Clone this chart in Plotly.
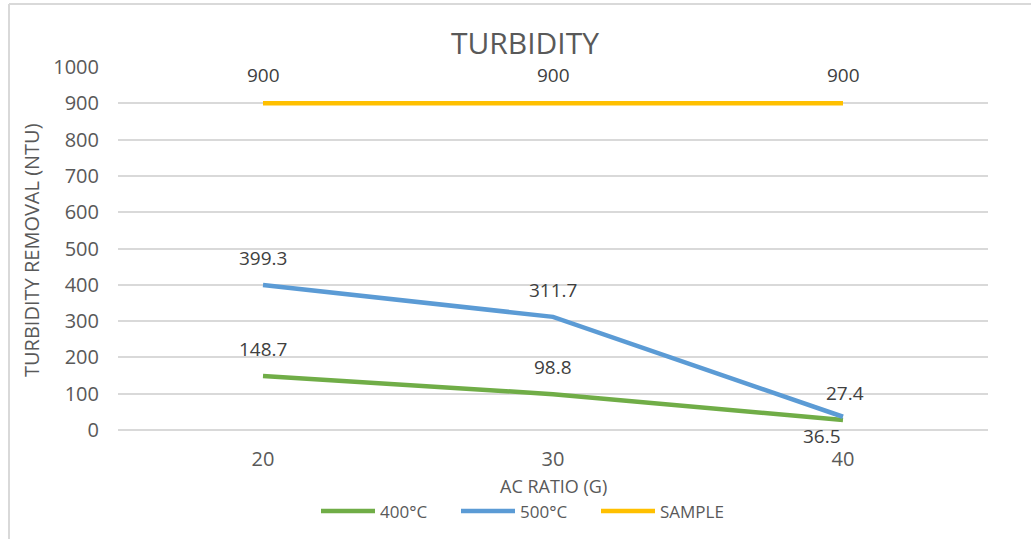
import plotly.graph_objects as go

categories = ["20", "30", "40"]
series_names = ["400\u00b0C", "500\u00b0C", "SAMPLE"]
vals_400 = [148.7, 98.8, 27.4]
vals_500 = [399.3, 311.7, 36.5]
vals_sample = [900, 900, 900]
y_ticks = [0, 100, 200, 300, 400, 500, 600, 700, 800, 900, 1000]

colors = ["#70ad47", "#5b9bd5", "#ffc000"]
# label offsets (pixels) per series / point
label_yshift = [[27, 27, 27], [27, 27, -19], [28, 28, 28]]
label_xshift = [[0, 0, 2], [0, 0, -21], [0, 0, 0]]

W, H = 1031, 539
L, R, T, B = 118, 988, 67, 430
pw, ph = R - L, B - T

def px_x(x):
    return (x - L) / pw

def px_y(y):
    return (B - y) / ph

FONT = "Open Sans"
TXT = "#595959"

fig = go.Figure()
for name, vals, col in zip(series_names, [vals_400, vals_500, vals_sample], colors):
    fig.add_trace(go.Scatter(
        x=categories, y=vals, name=name, mode="lines",
        line=dict(color=col, width=4.5), showlegend=False,
    ))

annotations = []
for vals, ys, xs in zip([vals_400, vals_500, vals_sample], label_yshift, label_xshift):
    for i, (v, s, sx) in enumerate(zip(vals, ys, xs)):
        annotations.append(dict(
            x=i, y=v, xref="x", yref="y", text=f"{v:g}", showarrow=False,
            yshift=s, xshift=sx, xanchor="center", yanchor="middle",
            font=dict(family=FONT, size=19, color="#404040"),
        ))

annotations.append(dict(
    x=px_x(553), y=px_y(486), xref="paper", yref="paper", text="AC RATIO (G)",
    showarrow=False, xanchor="center", yanchor="middle",
    font=dict(family=FONT, size=18, color=TXT),
))
annotations.append(dict(
    x=px_x(31), y=px_y(250), xref="paper", yref="paper",
    text="TURBIDITY REMOVAL (NTU)", textangle=-90,
    showarrow=False, xanchor="center", yanchor="middle",
    font=dict(family=FONT, size=20, color=TXT),
))

shapes = [
    dict(type="line", xref="paper", yref="paper",
         x0=px_x(9), x1=px_x(W + 5), y0=px_y(4), y1=px_y(4),
         line=dict(color="#d9d9d9", width=2)),
    dict(type="line", xref="paper", yref="paper",
         x0=px_x(9), x1=px_x(9), y0=px_y(4), y1=px_y(H + 5),
         line=dict(color="#d9d9d9", width=2)),
]

# custom legend (longer line symbols, as in the reference)
legend_line_x = [321, 461, 601]
legend_y = 511
for name, col, lx in zip(series_names, colors, legend_line_x):
    shapes.append(dict(type="line", xref="paper", yref="paper",
                       x0=px_x(lx), x1=px_x(lx + 54), y0=px_y(legend_y), y1=px_y(legend_y),
                       line=dict(color=col, width=4.5)))
    annotations.append(dict(
        x=px_x(lx + 57), y=px_y(legend_y), xref="paper", yref="paper", text=name,
        showarrow=False, xanchor="left", yanchor="middle",
        font=dict(family=FONT, size=17, color=TXT),
    ))

fig.update_layout(
    width=W, height=H,
    margin=dict(l=L, r=W - R, t=T, b=H - B, pad=0),
    paper_bgcolor="white", plot_bgcolor="white",
    showlegend=False,
    title=dict(text="TURBIDITY", x=px_x(525), xref="paper", xanchor="center",
               y=(H - 43) / H, yref="container", yanchor="middle",
               font=dict(family=FONT, size=30, color=TXT)),
    xaxis=dict(type="category", range=[-0.5, 2.5], showgrid=False,
               showline=False, zeroline=False, ticks="",
               tickfont=dict(family=FONT, size=20, color=TXT),
               ticklabelstandoff=15),
    yaxis=dict(range=[0, 1000], tickvals=y_ticks, showgrid=True,
               gridcolor="#d9d9d9", gridwidth=1.5, zeroline=True,
               zerolinecolor="#d9d9d9", zerolinewidth=1.5, showline=False,
               ticks="", tickfont=dict(family=FONT, size=20, color=TXT),
               ticklabelstandoff=18),
    annotations=annotations,
    shapes=shapes,
)

fig.write_html("out.html")
